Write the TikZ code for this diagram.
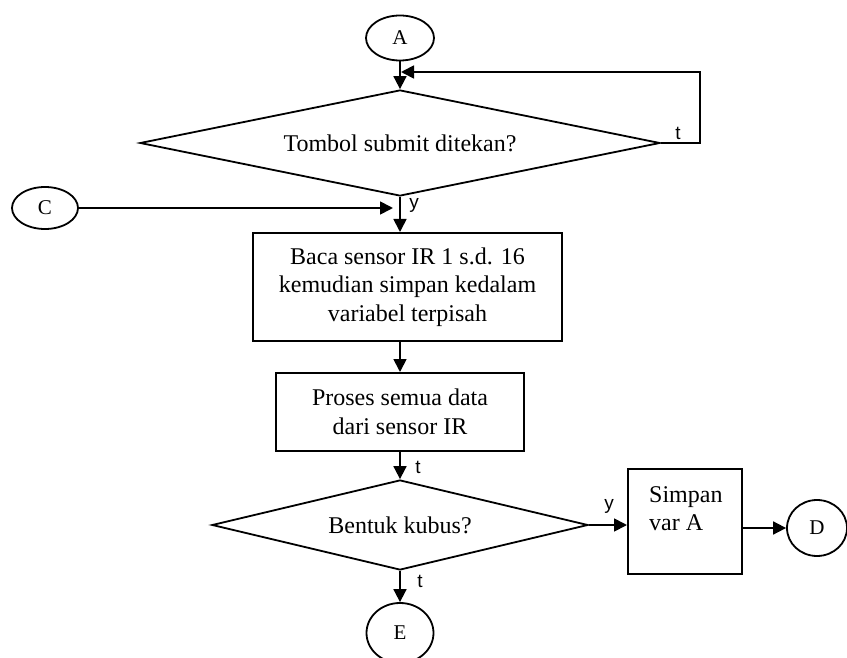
\documentclass[tikz,border=0pt]{standalone}
\usepackage{fontspec}
\setmainfont{Liberation Serif}
\newfontfamily\labelfont{Liberation Sans}
\usepackage{tikz}
\usetikzlibrary{shapes.geometric,arrows.meta,positioning,calc}

\tikzset{
  flowline/.style={line width=1.8pt},
  arr/.style={flowline,-{Triangle[length=13pt,width=13pt]}},
  procbox/.style={draw,line width=2pt,rectangle,inner sep=0pt,align=center,font=\fontsize{24}{28.5}\selectfont},
  decision/.style={draw,line width=1.8pt,diamond,inner sep=0pt,font=\fontsize{24}{28.5}\selectfont},
  connector/.style={draw,line width=1.8pt,ellipse,inner sep=0pt,font=\fontsize{21}{24}\selectfont},
  branch/.style={font=\labelfont\fontsize{19}{22}\selectfont,inner sep=0pt}
}

\begin{document}
\begin{tikzpicture}[x=1pt,y=-1pt]
    \clip (0,0) rectangle (847,658);
    \fill[white] (0,0) rectangle (847,658);
    % shapes
    \node[connector,minimum width=68pt,minimum height=45pt] (A) at (400,38) {A};
    \node[decision,minimum width=520pt,minimum height=106pt,aspect=4.9] (tombol) at (400,143) {Tombol submit ditekan?};
    \node[connector,minimum width=66pt,minimum height=42pt] (C) at (45,208) {C};
    \node[procbox,minimum width=309pt,minimum height=108pt] (baca) at (407.5,287)
      {Baca sensor IR 1 s.d. 16\\kemudian simpan kedalam\\variabel terpisah};
    \node[procbox,minimum width=248pt,minimum height=78pt] (proses) at (400,412)
      {Proses semua data\\dari sensor IR};
    \node[decision,minimum width=376pt,minimum height=90pt,aspect=4.2] (kubus) at (400,525) {Bentuk kubus?};
    \node[procbox,minimum width=114pt,minimum height=105pt] (simpan) at (685,521.5) {};
    \node[anchor=north west,align=left,inner sep=0pt,font=\fontsize{24}{28.5}\selectfont] (simpanteks) at (649,486)
      {Simpan\\var A};
    \node[connector,minimum width=60pt,minimum height=56pt] (D) at (817,528) {D};
    \node[connector,minimum width=67pt,minimum height=60pt] (E) at (400,633) {E};
    \coordinate (fb) at (400,72);
    \coordinate (cjoin) at (400,208);
    % connectors
    \draw[arr] (A) -- (tombol);
    \draw[arr,shorten >=1pt] (tombol.east) -- ++(39,0) |- (fb);
    \draw[arr,shorten >=7pt] (C) -- (cjoin);
    \draw[arr] (tombol.south) -- (tombol.south |- baca.north);
    \draw[arr] (proses.north |- baca.south) -- (proses.north);
    \draw[arr] (proses) -- (kubus);
    \draw[arr] (kubus) -- (E);
    \draw[arr] (kubus.east) -- (kubus.east -| simpan.west);
    \draw[arr] (simpan.east |- D) -- (D);
    % branch labels
    \node[branch] (tkanan) at (678,133) {t};
    \node[branch] (yatas) at (414,205) {y};
    \node[branch] (tproses) at (418,467) {t};
    \node[branch] (tbawah) at (420,581) {t};
    \node[branch] (ykanan) at (609,506) {y};
\end{tikzpicture}
\end{document}
